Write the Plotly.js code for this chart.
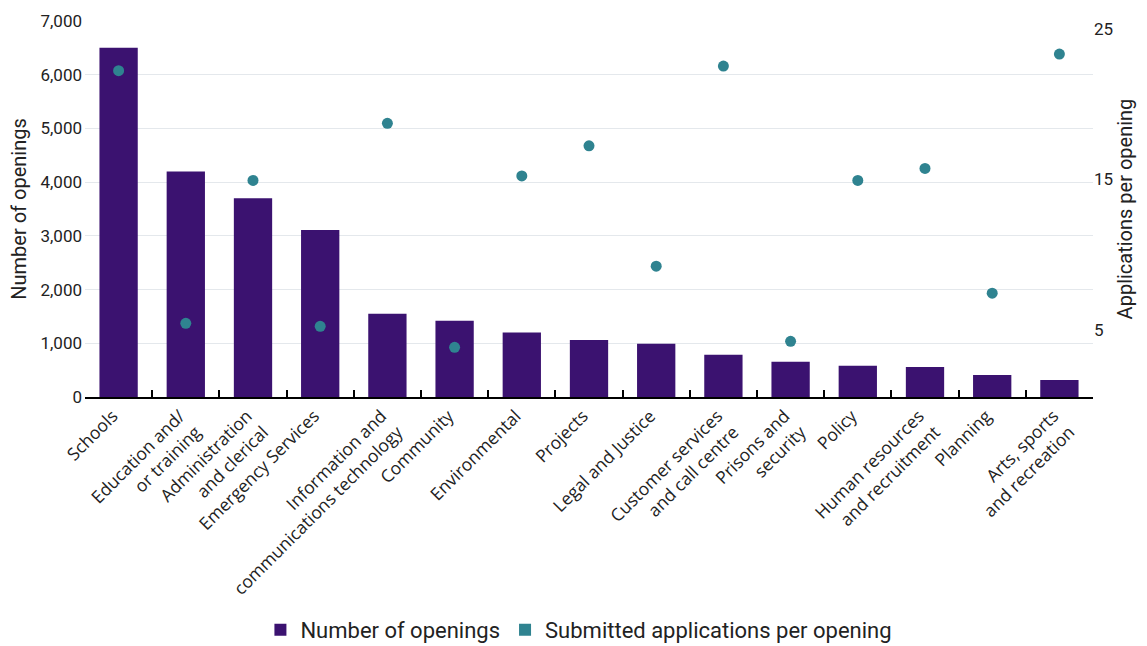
<!DOCTYPE html>
<html>
<head>
<meta charset="utf-8">
<script src="https://cdn.plot.ly/plotly-3.0.1.min.js"></script>
<style>html,body{margin:0;padding:0;background:#fff;}#chart{width:1147px;height:646px;}</style>
</head>
<body>
<div id="chart"></div>
<script>
const categories = [
  "Schools",
  "Education and/<br>or training",
  "Administration<br>and clerical",
  "Emergency Services",
  "Information and<br>communications technology",
  "Community",
  "Environmental",
  "Projects",
  "Legal and Justice",
  "Customer services<br>and call centre",
  "Prisons and<br>security",
  "Policy",
  "Human resources<br>and recruitment",
  "Planning",
  "Arts, sports<br>and recreation"
];
const openings = [6500, 4200, 3700, 3110, 1550, 1420, 1200, 1060, 990, 785, 655, 580, 560, 410, 315];
const appsPerOpening = [21.7, 4.9, 14.4, 4.7, 18.2, 3.3, 14.7, 16.7, 8.7, 22.0, 3.7, 14.4, 15.2, 6.9, 22.8];
const leftTicks = [0, 1000, 2000, 3000, 4000, 5000, 6000, 7000];
const rightTicks = [5, 15, 25];

const purple = "#3b1270";
const teal = "#2f8390";
const fontFam = "'Open Sans', 'Noto Sans', sans-serif";

const traces = [
  {
    type: "bar", x: categories, y: openings, name: "Number of openings",
    marker: {color: purple}, yaxis: "y", hoverinfo: "x+y"
  },
  {
    type: "scatter", mode: "markers", x: categories, y: appsPerOpening,
    name: "Submitted applications per opening", yaxis: "y2",
    marker: {color: teal, size: 11}, showlegend: false
  },
  {
    type: "bar", x: [null], y: [null], name: "Submitted applications per opening",
    marker: {color: teal}, yaxis: "y", hoverinfo: "skip"
  }
];

const layout = {
  width: 1147, height: 646,
  margin: {l: 85, r: 54, t: 21, b: 249, autoexpand: false},
  paper_bgcolor: "#fff", plot_bgcolor: "#fff",
  font: {family: fontFam, size: 16, color: "#222"},
  barmode: "overlay",
  bargap: 0.43,
  showlegend: true,
  legend: {
    orientation: "h", x: 0.49, xanchor: "center", xref: "paper",
    yref: "container", y: 0.025, yanchor: "middle",
    font: {size: 22, color: "#222", family: "Roboto, sans-serif"}, itemwidth: 30, traceorder: "normal"
  },
  xaxis: {
    type: "category", range: [-0.5, 14.5], automargin: false,
    showline: true, linecolor: "#000", linewidth: 2,
    ticks: "inside", ticklen: 7, tickwidth: 2, tickcolor: "#000",
    tickson: "boundaries", tickangle: -45, ticklabelshift: -6,
    tickfont: {size: 17.5, color: "#222"}, showgrid: false
  },
  yaxis: {
    range: [0, 7000], tickvals: leftTicks, tickformat: ",", automargin: false,
    showgrid: true, gridcolor: "#e4e8ec", gridwidth: 1, zeroline: false,
    tickfont: {size: 17, color: "#222", family: "Roboto, sans-serif"}, ticks: "", ticklabelstandoff: 2,
    title: {text: "Number of openings", font: {size: 20, color: "#222", family: "Roboto, sans-serif"}, standoff: 8}
  },
  yaxis2: {
    range: [0, 25], tickvals: rightTicks, overlaying: "y", side: "right", automargin: false,
    showgrid: false, zeroline: false, ticks: "", ticklabelshift: 8,
    tickfont: {size: 17, color: "#222", family: "Roboto, sans-serif"},
    title: {text: "Applications per opening", font: {size: 20, color: "#222", family: "Roboto, sans-serif"}, standoff: 2}
  }
};

Plotly.newPlot("chart", traces, layout, {displayModeBar: false, staticPlot: true});
</script>
</body>
</html>
